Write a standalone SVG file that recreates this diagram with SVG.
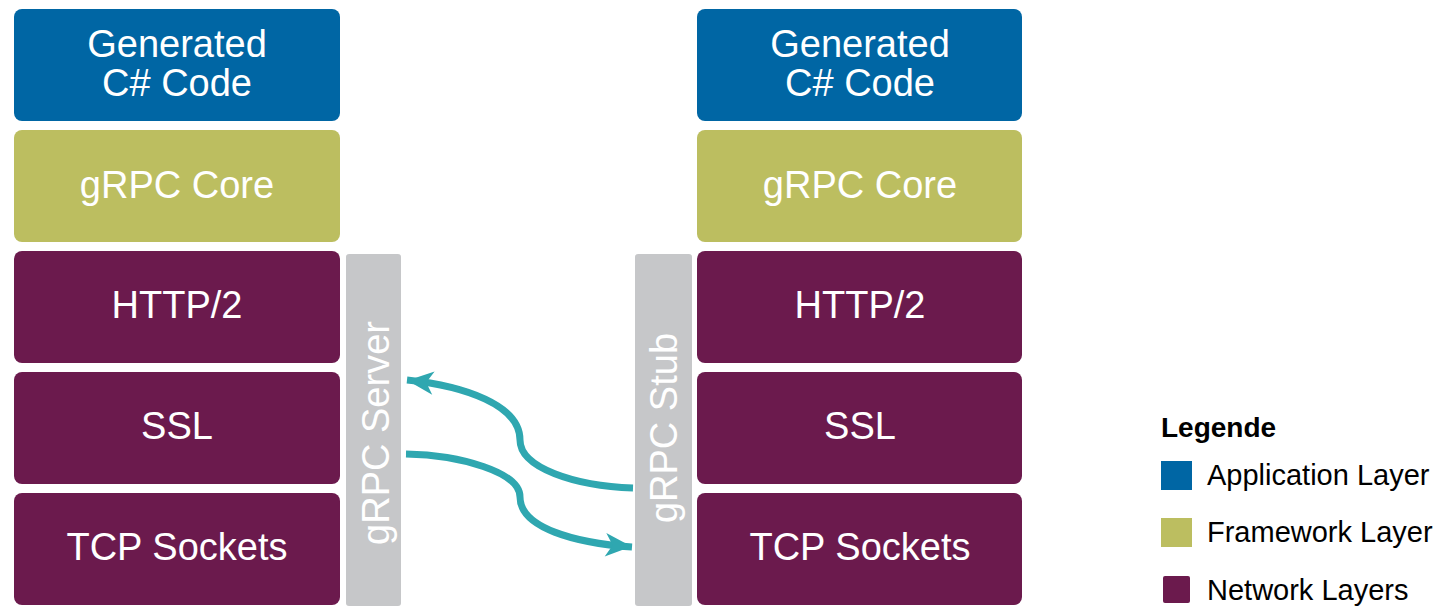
<svg xmlns="http://www.w3.org/2000/svg" width="1445" height="614" viewBox="0 0 1445 614">
<style>
.app{fill:#0066a4}
.fw{fill:#bcbe60}
.net{fill:#6b1a4d}
.bar{fill:#c6c7c9}
.t{font-family:"Liberation Sans",Arial,sans-serif;font-size:38px;fill:#ffffff;text-anchor:middle}
.lg{font-family:"Liberation Sans",Arial,sans-serif;font-size:29px;fill:#000000}
.lgh{font-family:"Liberation Sans",Arial,sans-serif;font-size:28px;font-weight:bold;fill:#000000}
.conn{fill:none;stroke:#2fa7b0;stroke-width:7}
</style>
<defs>
<marker id="ah" markerWidth="8" markerHeight="8" refX="5" refY="4" orient="auto" markerUnits="userSpaceOnUse" viewBox="0 0 8 8" overflow="visible">
<path d="M-24,-9 L5,4 L-24,17 L-16,4 Z" fill="#2fa7b0" transform="scale(0.9)"/>
</marker>
</defs>
<g id="left-app"><rect class="app" x="14" y="9" width="326" height="112" rx="8"/><text class="t" x="177" y="57">Generated</text><text class="t" x="177" y="96">C# Code</text></g>
<g id="left-core"><rect class="fw" x="14" y="130" width="326" height="112" rx="8"/><text class="t" x="177" y="198">gRPC Core</text></g>
<g id="left-http"><rect class="net" x="14" y="251" width="326" height="112" rx="8"/><text class="t" x="177" y="318">HTTP/2</text></g>
<g id="left-ssl"><rect class="net" x="14" y="372" width="326" height="112" rx="8"/><text class="t" x="177" y="439">SSL</text></g>
<g id="left-tcp"><rect class="net" x="14" y="493" width="326" height="112" rx="8"/><text class="t" x="177" y="560">TCP Sockets</text></g>
<g id="server"><rect class="bar" x="346" y="254" width="55" height="352" rx="3"/><text class="t" transform="translate(389,433) rotate(-90)" x="0" y="0">gRPC Server</text></g>
<g id="stub"><rect class="bar" x="635" y="254" width="57" height="352" rx="3"/><text class="t" transform="translate(677,428) rotate(-90)" x="0" y="0">gRPC Stub</text></g>
<g id="right-app"><rect class="app" x="697" y="9" width="325" height="112" rx="8"/><text class="t" x="860" y="57">Generated</text><text class="t" x="860" y="96">C# Code</text></g>
<g id="right-core"><rect class="fw" x="697" y="130" width="325" height="112" rx="8"/><text class="t" x="860" y="198">gRPC Core</text></g>
<g id="right-http"><rect class="net" x="697" y="251" width="325" height="112" rx="8"/><text class="t" x="860" y="318">HTTP/2</text></g>
<g id="right-ssl"><rect class="net" x="697" y="372" width="325" height="112" rx="8"/><text class="t" x="860" y="439">SSL</text></g>
<g id="right-tcp"><rect class="net" x="697" y="493" width="325" height="112" rx="8"/><text class="t" x="860" y="560">TCP Sockets</text></g>
<g id="connectors">
<path class="conn" d="M633,488 C575,486 520,468 520,440 C520,405 465,386 407,380" marker-end="url(#ah)"/>
<path class="conn" d="M406,454 C460,455 520,472 520,497 C520,528 575,543 632,547" marker-end="url(#ah)"/>
</g>
<g id="legend">
<text class="lgh" x="1161" y="437">Legende</text>
<rect class="app" x="1161" y="461" width="31" height="29"/>
<text class="lg" x="1207" y="485">Application Layer</text>
<rect class="fw" x="1161" y="518" width="31" height="29"/>
<text class="lg" x="1207" y="542">Framework Layer</text>
<rect class="net" x="1163" y="576" width="27" height="27" rx="2"/>
<text class="lg" x="1207" y="600">Network Layers</text>
</g>
</svg>
